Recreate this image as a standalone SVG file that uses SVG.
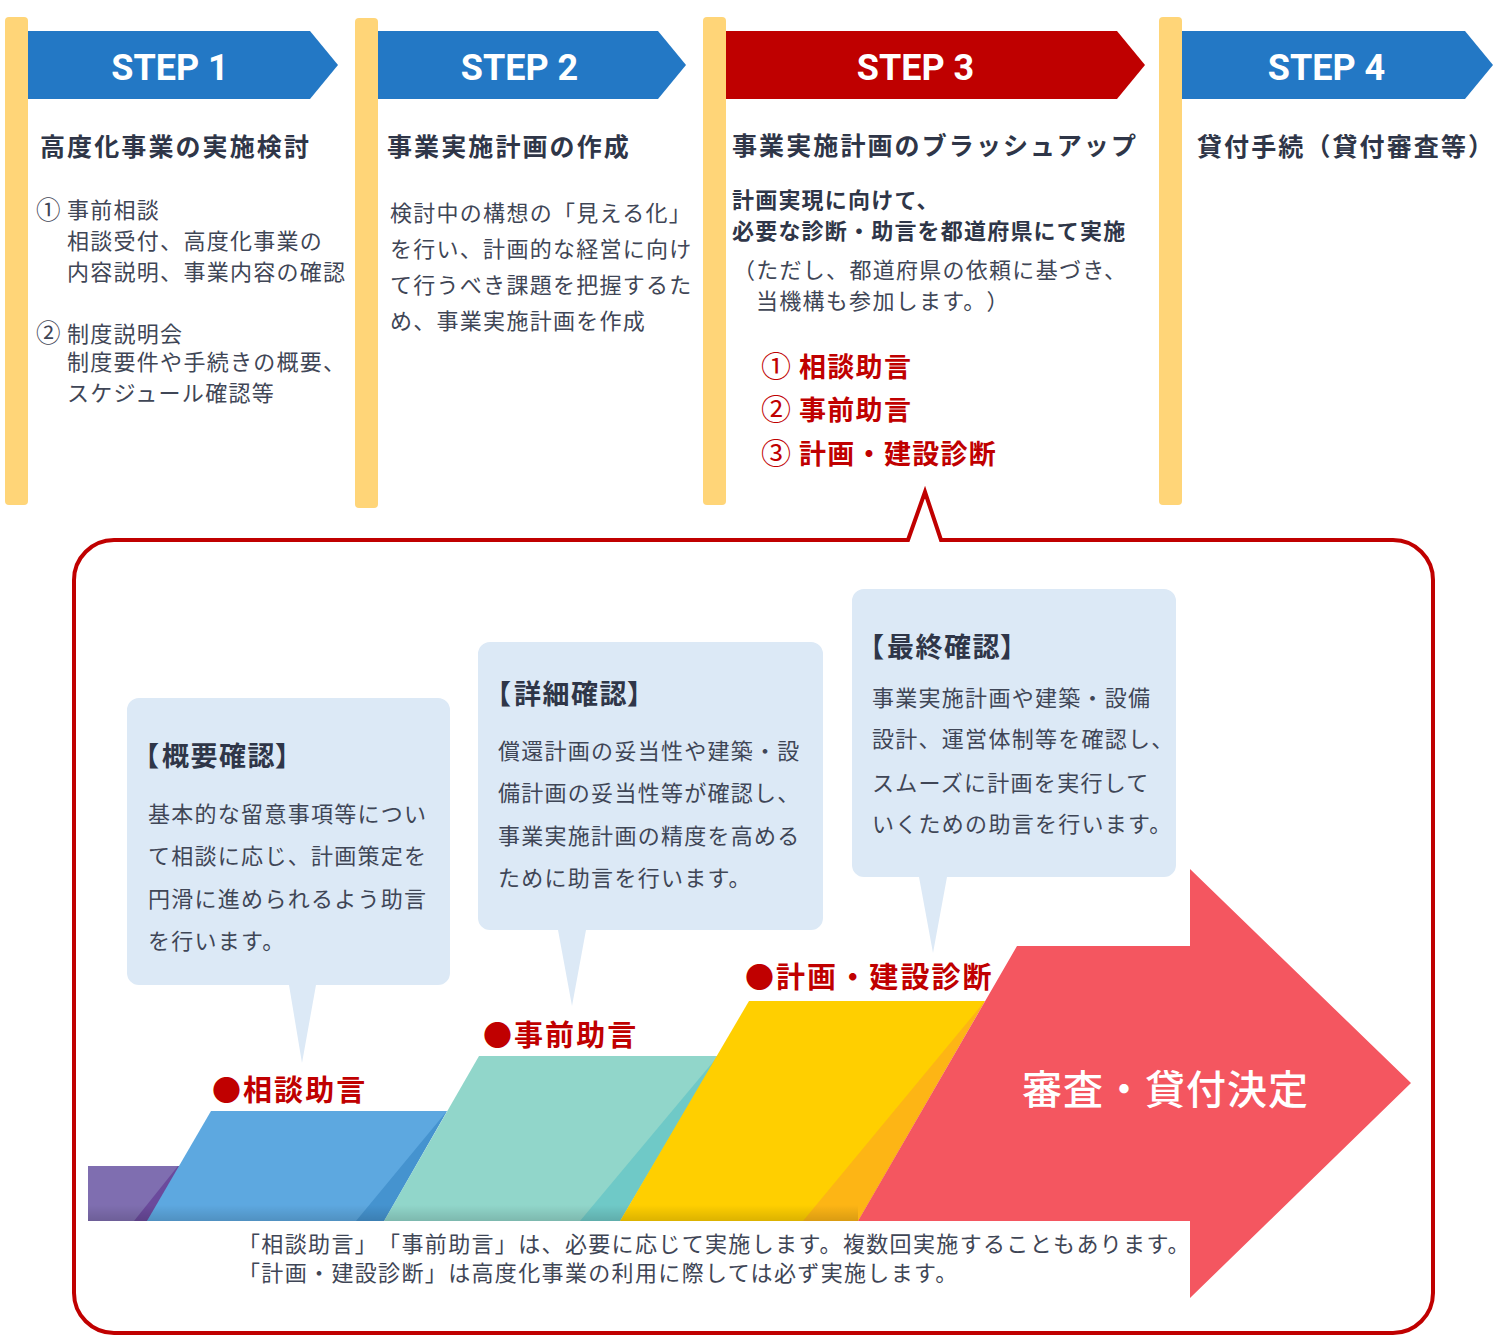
<svg xmlns="http://www.w3.org/2000/svg" width="1500" height="1342" viewBox="0 0 1500 1342">
<defs>
<linearGradient id="shade" x1="0" y1="0" x2="0" y2="1"><stop offset="0" stop-color="#000" stop-opacity="0"/><stop offset="1" stop-color="#000" stop-opacity="0.14"/></linearGradient>
</defs>
<style>
text{font-family:"Noto Sans CJK JP","Noto Sans",sans-serif;white-space:pre;text-spacing-trim:space-all}
.bar{fill:#ffd578}
.step{font-family:Roboto,"Liberation Sans",sans-serif;font-weight:700;font-size:36px;fill:#fff;text-anchor:middle}
.h{font-size:25px;font-weight:700;letter-spacing:2.1px;fill:#2f3648}
.b{font-size:22px;font-weight:400;letter-spacing:1.28px;fill:#3f4656}
.n{font-size:22px;font-weight:400;letter-spacing:1.35px;fill:#3f4656}
.c1{font-size:24.5px;font-weight:400;fill:#3f4656}
.bb{font-size:22px;font-weight:700;letter-spacing:1.2px;fill:#2f3648}
.r{font-size:27px;font-weight:700;letter-spacing:1.3px;fill:#c00000}
.c2{font-size:30px;font-weight:400;fill:#c00000}
.l{font-size:29px;font-weight:700;letter-spacing:2.1px;fill:#c00000}
.ct{font-size:27px;font-weight:700;letter-spacing:1.5px;fill:#2f3648}
.cb{fill:#dce9f6}
</style>
<g id="panel"><path d="M908 540L925 492L941 540H1393A40 40 0 0 1 1433 580V1293A40 40 0 0 1 1393 1333H114A40 40 0 0 1 74 1293V580A40 40 0 0 1 114 540Z" fill="#fff" stroke="#c00000" stroke-width="4"/></g>
<g id="step1">
<rect class="bar" x="5" y="17" width="23" height="488" rx="4"/>
<path d="M28 31H310L338 65L310 99H28Z" fill="#2378c5"/>
<text class="step" x="170" y="80">STEP 1</text>
<text class="h" x="40" y="156">高度化事業の実施検討</text>
<text class="c1" x="36" y="219">①</text><text class="b" x="67" y="218">事前相談</text>
<text class="b" x="67" y="249">相談受付、高度化事業の</text>
<text class="b" x="67" y="280">内容説明、事業内容の確認</text>
<text class="c1" x="36" y="342">②</text><text class="b" x="67" y="342">制度説明会</text>
<text class="b" x="67" y="370">制度要件や手続きの概要、</text>
<text class="b" x="67" y="401">スケジュール確認等</text>
</g>
<g id="step2">
<rect class="bar" x="355" y="18" width="23" height="490" rx="4"/>
<path d="M378 31H658L686 65L658 99H378Z" fill="#2378c5"/>
<text class="step" x="519.5" y="80">STEP 2</text>
<text class="h" x="387" y="156">事業実施計画の作成</text>
<text class="b" x="390" y="221">検討中の構想の「見える化」</text>
<text class="b" x="390" y="257">を行い、計画的な経営に向け</text>
<text class="b" x="390" y="293">て行うべき課題を把握するた</text>
<text class="b" x="390" y="329">め、事業実施計画を作成</text>
</g>
<g id="step3">
<rect class="bar" x="703" y="17" width="23" height="488" rx="4"/>
<path d="M726 31H1117L1145 65L1117 99H726Z" fill="#bf0000"/>
<text class="step" x="915.5" y="80">STEP 3</text>
<text class="h" x="732" y="155">事業実施計画のブラッシュアップ</text>
<text class="bb" x="732" y="208">計画実現に向けて、</text>
<text class="bb" x="732" y="239">必要な診断・助言を都道府県にて実施</text>
<text class="b" x="733" y="278">（ただし、都道府県の依頼に基づき、</text>
<text class="b" x="756" y="309">当機構も参加します。）</text>
<text class="c2" x="761" y="377">①</text><text class="r" x="799" y="377">相談助言</text>
<text class="c2" x="761" y="420">②</text><text class="r" x="799" y="420">事前助言</text>
<text class="c2" x="761" y="464">③</text><text class="r" x="799" y="464">計画・建設診断</text>
</g>
<g id="step4">
<rect class="bar" x="1159" y="17" width="23" height="488" rx="4"/>
<path d="M1182 31H1465L1493 65L1465 99H1182Z" fill="#2378c5"/>
<text class="step" x="1326.5" y="80">STEP 4</text>
<text class="h" x="1197" y="156">貸付手続（貸付審査等）</text>
</g>
<g id="stairs">
<rect x="88" y="1166" width="95" height="55" fill="#7f6eb0"/>
<polygon points="134,1221 178,1166 183,1166 147,1221" fill="#6b4a9c"/>
<polygon points="147,1221 211,1111 447,1111 384,1221" fill="#5da8e0"/>
<polygon points="356,1221 447,1111 384,1221" fill="#4593cf"/>
<polygon points="384,1221 479,1056 718,1056 620,1221" fill="#91d6ca"/>
<polygon points="580,1221 718,1056 620,1221" fill="#6fc9c7"/>
<polygon points="620,1221 749,1001 985,1001 858,1221" fill="#ffcf00"/>
<polygon points="803,1221 985,1001 858,1221" fill="#fdb515"/>
<rect x="88" y="1205" width="770" height="16" fill="url(#shade)"/>
</g>
<g id="goal">
<polygon points="858,1221 1017,946 1190,946 1190,869 1411,1083 1190,1298 1190,1221" fill="#f45660"/>
<text x="1022" y="1104" font-size="40" font-weight="500" letter-spacing="1" fill="#fff">審査・貸付決定</text>
</g>
<g id="callout1">
<path class="cb" d="M139 698H438A12 12 0 0 1 450 710V973A12 12 0 0 1 438 985H316L302 1063L289 985H139A12 12 0 0 1 127 973V710A12 12 0 0 1 139 698Z"/>
<text class="ct" y="766"><tspan x="132">【</tspan><tspan x="162">概要確認</tspan><tspan x="275">】</tspan></text>
<text class="b" x="148" y="822">基本的な留意事項等につい</text>
<text class="b" x="148" y="864">て相談に応じ、計画策定を</text>
<text class="b" x="148" y="907">円滑に進められるよう助言</text>
<text class="b" x="148" y="949">を行います。</text>
</g>
<g id="callout2">
<path class="cb" d="M490 642H811A12 12 0 0 1 823 654V918A12 12 0 0 1 811 930H586L572 1006L558 930H490A12 12 0 0 1 478 918V654A12 12 0 0 1 490 642Z"/>
<text class="ct" y="704"><tspan x="484">【</tspan><tspan x="514">詳細確認</tspan><tspan x="627">】</tspan></text>
<text class="b" x="498" y="759">償還計画の妥当性や建築・設</text>
<text class="b" x="498" y="801">備計画の妥当性等が確認し、</text>
<text class="b" x="498" y="844">事業実施計画の精度を高める</text>
<text class="b" x="498" y="886">ために助言を行います。</text>
</g>
<g id="callout3">
<path class="cb" d="M864 589H1164A12 12 0 0 1 1176 601V865A12 12 0 0 1 1164 877H947L933 953L919 877H864A12 12 0 0 1 852 865V601A12 12 0 0 1 864 589Z"/>
<text class="ct" y="657"><tspan x="857">【</tspan><tspan x="887">最終確認</tspan><tspan x="1000">】</tspan></text>
<text class="b" x="872" y="706">事業実施計画や建築・設備</text>
<text class="b" x="872" y="747">設計、運営体制等を確認し、</text>
<text class="b" x="872" y="791">スムーズに計画を実行して</text>
<text class="b" x="872" y="832">いくための助言を行います。</text>
</g>
<g id="labels">
<text class="l" x="212" y="1101">●</text><text class="l" x="243" y="1101">相談助言</text>
<text class="l" x="483" y="1046">●</text><text class="l" x="514" y="1046">事前助言</text>
<text class="l" x="745" y="988">●</text><text class="l" x="776" y="988">計画・建設診断</text>
</g>
<g id="note">
<text class="n" x="238" y="1252">「相談助言」「事前助言」は、必要に応じて実施します。複数回実施することもあります。</text>
<text class="n" x="238" y="1281">「計画・建設診断」は高度化事業の利用に際しては必ず実施します。</text>
</g>
</svg>
